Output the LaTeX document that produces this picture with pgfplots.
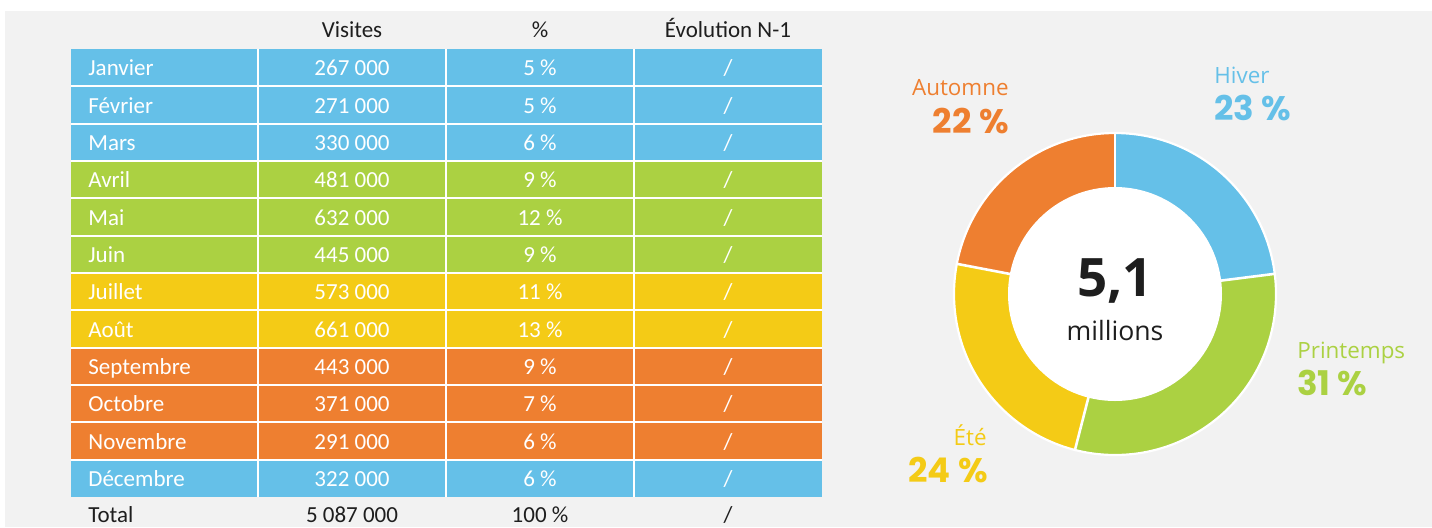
\documentclass[border=0pt]{standalone}
\usepackage{pgfplots}
\pgfplotsset{compat=1.18}
\usepackage{fontspec}
\setmainfont{Carlito}
\newfontfamily\osans{Open Sans}
\newfontfamily\pop{Poppins}
\definecolor{cH}{RGB}{101,192,232}
\definecolor{cP}{RGB}{171,209,66}
\definecolor{cE}{RGB}{244,203,22}
\definecolor{cA}{RGB}{238,127,48}
\definecolor{bg}{RGB}{242,242,242}
\definecolor{txt}{RGB}{30,30,30}
% season shares (%)
\def\pH{23}\def\pP{31}\def\pE{24}\def\pA{22}
\newcommand\trow[4]{%
  \node[anchor=base west,inner sep=0,text=white] at (axis cs:88,#1) {#2};
  \node[anchor=base,inner sep=0,text=white] at (axis cs:352,#1) {#3};
  \node[anchor=base,inner sep=0,text=white] at (axis cs:540,#1) {#4 \%};
  \node[anchor=base,inner sep=0,text=white] at (axis cs:728,#1) {/};
}
\newcommand\sector[3]{%
  \fill[#1] (axis cs:1115,294) -- ++(#2:80.5pt) arc[start angle=#2,end angle=#3,radius=80.5pt] -- cycle;
}
\begin{document}
\begin{tikzpicture}
\pgfmathsetmacro\aa{90}
\pgfmathsetmacro\ab{90-3.6*\pH}
\pgfmathsetmacro\ac{\ab-3.6*\pP}
\pgfmathsetmacro\ad{\ac-3.6*\pE}
\pgfmathsetmacro\ae{\ad-3.6*\pA}
\begin{axis}[x=0.5pt,y=0.5pt,y dir=reverse,xmin=0,xmax=1432,ymin=0,ymax=527,
  hide axis,clip=false,
  font=\fontsize{11.5}{13}\selectfont]
\fill[white] (axis cs:0,0) rectangle (axis cs:1432,527);
\fill[bg] (axis cs:5,11) rectangle (axis cs:1432,527);
% table cells
\fill[cH] (axis cs:71,49) rectangle (axis cs:822,161);
\fill[cP] (axis cs:71,161) rectangle (axis cs:822,273);
\fill[cE] (axis cs:71,273) rectangle (axis cs:822,347.7);
\fill[cA] (axis cs:71,347.7) rectangle (axis cs:822,459.7);
\fill[cH] (axis cs:71,459.7) rectangle (axis cs:822,497);
\foreach \yy in {86.3,123.7,161,198.3,235.7,273,310.3,347.7,385,422.3,459.7}{
  \edef\tmp{\noexpand\draw[white,line width=0.9pt] (axis cs:71,\yy) -- (axis cs:822,\yy);}\tmp}
\foreach \xx in {258,446,634}{
  \edef\tmp{\noexpand\draw[white,line width=0.9pt] (axis cs:\xx,49) -- (axis cs:\xx,497);}\tmp}
% header
\node[anchor=base,inner sep=0,text=txt] at (axis cs:352,37.5) {Visites};
\node[anchor=base,inner sep=0,text=txt] at (axis cs:540,37.5) {\%};
\node[anchor=base,inner sep=0,text=txt] at (axis cs:728,37.5) {Évolution N-1};
\trow{75.7}{Janvier}{267 000}{5}
\trow{113.0}{Février}{271 000}{5}
\trow{150.3}{Mars}{330 000}{6}
\trow{187.7}{Avril}{481 000}{9}
\trow{225.0}{Mai}{632 000}{12}
\trow{262.3}{Juin}{445 000}{9}
\trow{299.7}{Juillet}{573 000}{11}
\trow{337.0}{Août}{661 000}{13}
\trow{374.3}{Septembre}{443 000}{9}
\trow{411.7}{Octobre}{371 000}{7}
\trow{449.0}{Novembre}{291 000}{6}
\trow{486.3}{Décembre}{322 000}{6}
\node[anchor=base west,inner sep=0,text=txt] at (axis cs:88,522) {Total};
\node[anchor=base,inner sep=0,text=txt] at (axis cs:352,522) {5 087 000};
\node[anchor=base,inner sep=0,text=txt] at (axis cs:540,522) {100 \%};
\node[anchor=base,inner sep=0,text=txt] at (axis cs:728,522) {/};
% donut
\sector{cH}{\aa}{\ab}
\sector{cP}{\ab}{\ac}
\sector{cE}{\ac}{\ad}
\sector{cA}{\ad}{\ae}
\draw[white,line width=1.3pt] (axis cs:1115,294) -- ++(\aa:81pt);
\draw[white,line width=1.3pt] (axis cs:1115,294) -- ++(\ab:81pt);
\draw[white,line width=1.3pt] (axis cs:1115,294) -- ++(\ac:81pt);
\draw[white,line width=1.3pt] (axis cs:1115,294) -- ++(\ad:81pt);
\draw[white,line width=1.1pt] (axis cs:1115,294) circle[radius=80.5pt];
\fill[white] (axis cs:1115,294) circle[radius=53.5pt];
\node[anchor=base,inner sep=0,text=txt,font=\osans\bfseries\fontsize{26.5}{30}\selectfont] at (axis cs:1115,296) {5,1};
\node[anchor=base,inner sep=0,text=txt,font=\osans\fontsize{13.3}{15}\selectfont] at (axis cs:1115,340) {millions};
% labels
\node[anchor=base west,inner sep=0,text=cH,font=\osans\fontsize{11.2}{13}\selectfont] at (axis cs:1214,83) {Hiver};
\node[anchor=base west,inner sep=0,text=cH,font=\pop\bfseries\fontsize{17}{20}\selectfont] at (axis cs:1214,120) {\pH\ \%};
\node[anchor=base east,inner sep=0,text=cA,font=\osans\fontsize{11.2}{13}\selectfont] at (axis cs:1009,95) {Automne};
\node[anchor=base east,inner sep=0,text=cA,font=\pop\bfseries\fontsize{17}{20}\selectfont] at (axis cs:1009,133) {\pA\ \%};
\node[anchor=base west,inner sep=0,text=cP,font=\osans\fontsize{11.2}{13}\selectfont] at (axis cs:1297,358) {Printemps};
\node[anchor=base west,inner sep=0,text=cP,font=\pop\bfseries\fontsize{17}{20}\selectfont] at (axis cs:1297,395) {\pP\ \%};
\node[anchor=base east,inner sep=0,text=cE,font=\osans\fontsize{11.2}{13}\selectfont] at (axis cs:987,445) {Été};
\node[anchor=base east,inner sep=0,text=cE,font=\pop\bfseries\fontsize{17}{20}\selectfont] at (axis cs:988,482) {\pE\ \%};
\end{axis}
\end{tikzpicture}
\end{document}
